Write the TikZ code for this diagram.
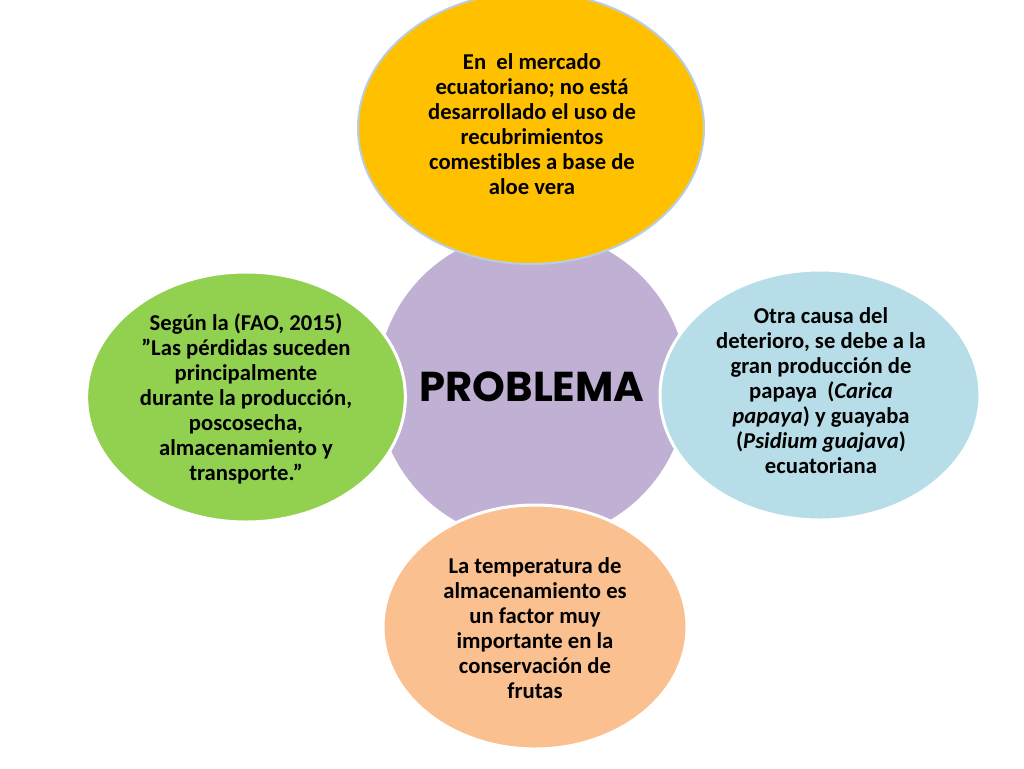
\documentclass[tikz,border=0pt]{standalone}
\usepackage{fontspec}
\setmainfont{Carlito}[Ligatures=NoCommon]
\newfontfamily\titlefont{Poppins}[UprightFont=* Bold]
\usetikzlibrary{shapes.geometric}
\definecolor{cpurple}{RGB}{191,176,212}
\definecolor{cyellow}{RGB}{255,192,0}
\definecolor{cblue}{RGB}{183,222,232}
\definecolor{cgreen}{RGB}{146,208,80}
\definecolor{corange}{RGB}{250,192,144}
\definecolor{cedge}{RGB}{185,205,229}
\tikzset{
  blob/.style={ellipse, inner sep=0pt, draw=white, line width=2.25pt},
  txt/.style={align=center, font=\fontsize{17}{18.75}\selectfont\bfseries, text=black, inner sep=0pt}
}
\begin{document}
\begin{tikzpicture}[x=0.75pt,y=-0.75pt]
\useasboundingbox (0,0) rectangle (1024,768);
\fill[white] (0,0) rectangle (1024,768);
\node[ellipse, inner sep=0pt, fill=cpurple, minimum width=232.5pt, minimum height=232.5pt] (center) at (532,386) {};
\node[blob, fill=cyellow, draw=cedge, line width=1.5pt, minimum width=259.5pt, minimum height=204pt] (top) at (531,128) {};
\node[blob, fill=cblue, minimum width=240pt, minimum height=187.5pt] (right) at (820,395) {};
\node[blob, fill=cgreen, minimum width=239pt, minimum height=187.5pt] (left) at (246,397) {};
\node[blob, fill=corange, minimum width=228pt, minimum height=183pt] (bottom) at (535,627) {};
\node[inner sep=0pt, font=\titlefont\fontsize{31.3}{31.3}\selectfont] (ptitle) at (532,387) {PROBLEMA};
\node[txt] (ttop) at (532,124) {En\ \ el mercado\\ecuatoriano; no está\\desarrollado el uso de\\recubrimientos\\comestibles a base de\\aloe vera};
\node[txt] (tright) at (821,391) {Otra causa del\\deterioro, se debe a la\\gran producción de\\papaya\ \ (\textit{Carica}\\\textit{papaya}) y guayaba\\(\textit{Psidium guajava})\\ecuatoriana};
\node[txt] (tleft) at (246,399) {Según la (FAO, 2015)\\”Las pérdidas suceden\\principalmente\\durante la producción,\\poscosecha,\\almacenamiento y\\transporte.”};
\node[txt] (tbottom) at (535,628) {La temperatura de\\almacenamiento es\\un factor muy\\importante en la\\conservación de\\frutas};
\end{tikzpicture}
\end{document}
